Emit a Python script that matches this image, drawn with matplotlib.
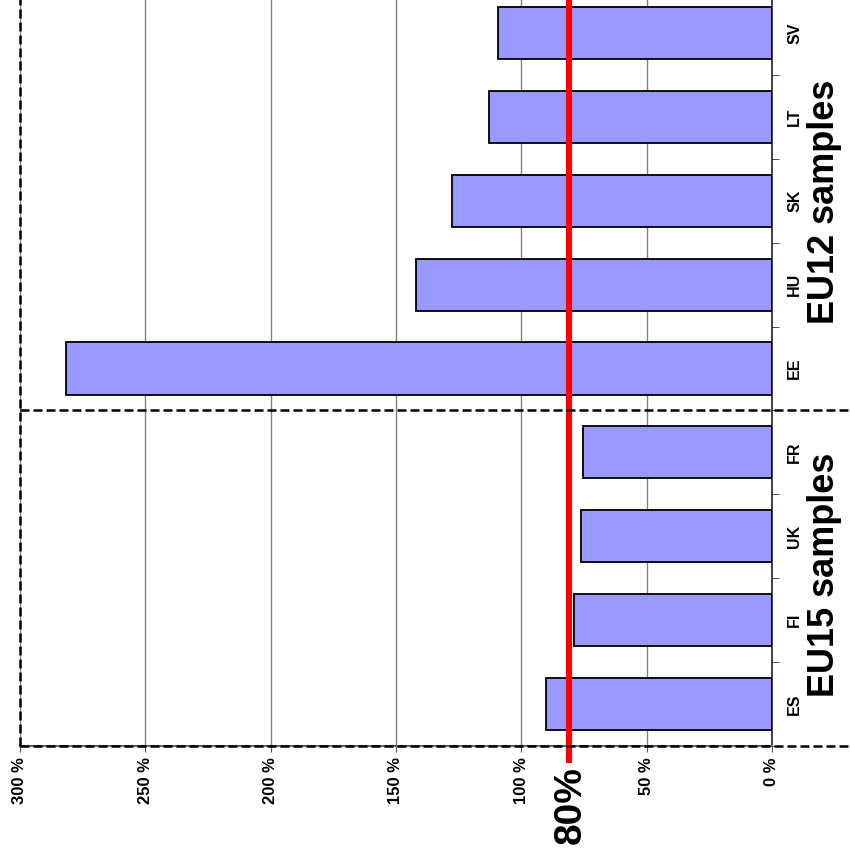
import matplotlib
matplotlib.use("Agg")
import matplotlib.pyplot as plt
from matplotlib.lines import Line2D
from matplotlib.transforms import blended_transform_factory

plt.rcParams['font.family'] = ['Liberation Sans', 'DejaVu Sans']

categories = ["ES", "FI", "UK", "FR", "EE", "HU", "SK", "LT", "SV"]
values = [90.1, 79.0, 76.2, 75.4, 281.6, 142.0, 127.6, 112.9, 109.3]
xticks = [0, 50, 100, 150, 200, 250, 300]
xticklabels = ["0 %", "50 %", "100 %", "150 %", "200 %", "250 %", "300 %"]
threshold = 81.0
threshold_label = "80%"
group_labels = ["EU15 samples", "EU12 samples"]
group_split = 3.5

W, H = 850, 858
fig = plt.figure(figsize=(W / 100, H / 100), dpi=100)
left, right = 20 / W, 772 / W
bottom = (H - 746) / H
top = (H + 9) / H
ax = fig.add_axes([left, bottom, right - left, top - bottom])

ypos = list(range(len(categories)))
ax.barh(ypos, values, height=0.62, color="#9999FF", edgecolor="black",
        linewidth=1.3, zorder=3)
ax.set_xlim(300, 0)
ax.set_ylim(-0.5, len(categories) - 0.5)

# gridlines
ax.set_xticks(xticks)
ax.set_xticklabels(xticklabels, rotation=90, fontsize=12, fontweight="bold",
                   va="top", ha="center")
ax.xaxis.grid(True, color="#808080", linewidth=1.0, zorder=0)
ax.tick_params(axis="x", direction="out", length=4, color="#555555", pad=4)

# categories on the right
ax.yaxis.tick_right()
ax.set_yticks(ypos)
ax.set_yticklabels(categories, rotation=90, fontsize=11.5, fontweight="bold",
                   va="center", ha="left")
ax.set_yticks([i + 0.5 for i in range(-1, len(categories))], minor=True)
ax.tick_params(axis="y", which="major", length=0, pad=11)
ax.tick_params(axis="y", which="minor", length=5, color="#333333",
               direction="out", right=True, left=False)

for s in ["top", "left"]:
    ax.spines[s].set_visible(False)
ax.spines["right"].set_color("#222222")
ax.spines["right"].set_linewidth(1.2)
ax.spines["bottom"].set_color("#666666")
ax.spines["bottom"].set_linewidth(1.5)

# dashed lines
tr = blended_transform_factory(fig.transFigure, ax.transData)
for yv in [-0.5, group_split]:
    ln = Line2D([20 / W, 1.0], [yv, yv], transform=tr, color="black",
                linewidth=1.8, linestyle=(0, (3.6, 1.6)), zorder=5)
    fig.add_artist(ln)
ax.plot([300, 300], [-0.5, len(categories) - 0.5], color="black",
        linewidth=1.8, linestyle=(0, (3.6, 1.6)), zorder=5, clip_on=False)

# threshold line
ax.plot([threshold, threshold], [-0.7, len(categories) - 0.5], color="red",
        linewidth=4.4, zorder=6, clip_on=False, solid_capstyle="butt")
fig.text(571 / W, 1 - 805 / H, threshold_label, rotation=90, fontsize=28,
         fontweight="bold", ha="center", va="center")

# group labels
fig.text(824 / W, 1 - 575 / H, group_labels[0], rotation=90, fontsize=26,
         fontweight="bold", ha="center", va="center")
fig.text(824 / W, 1 - 202 / H, group_labels[1], rotation=90, fontsize=26,
         fontweight="bold", ha="center", va="center")

fig.savefig("out.png", dpi=100)
